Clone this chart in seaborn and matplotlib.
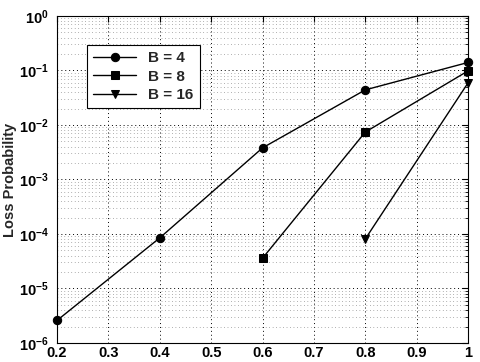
import numpy as np
import pandas as pd
import matplotlib
matplotlib.use('Agg')
import matplotlib.pyplot as plt
import seaborn as sns

# Data
load_b4 = [0.2, 0.4, 0.6, 0.8, 1.0]
loss_b4 = [2.6e-6, 8.5e-5, 3.8e-3, 4.4e-2, 0.14]
load_b8 = [0.6, 0.8, 1.0]
loss_b8 = [3.6e-5, 7.4e-3, 0.098]
load_b16 = [0.8, 1.0]
loss_b16 = [8.1e-5, 0.059]
labels = ['B = 4', 'B = 8', 'B = 16']
markers = ['o', 's', 'v']

df = pd.concat([
    pd.DataFrame({'load': load_b4, 'loss': loss_b4, 'B': labels[0]}),
    pd.DataFrame({'load': load_b8, 'loss': loss_b8, 'B': labels[1]}),
    pd.DataFrame({'load': load_b16, 'loss': loss_b16, 'B': labels[2]}),
])

sns.set_style('white')
plt.rcParams['font.family'] = ['Liberation Sans', 'DejaVu Sans']

fig = plt.figure(figsize=(4.8, 3.62), dpi=100)
ax = fig.add_axes([0.119, 0.0525, 0.856, 0.9035])

sns.lineplot(data=df, x='load', y='loss', style='B', markers=dict(zip(labels, markers)),
             dashes=False, color='black', linewidth=1.0, markersize=6,
             markeredgecolor='black', ax=ax, clip_on=False)

ax.set_yscale('log')
ax.set_xlim(0.2, 1.0)
ax.set_ylim(1e-6, 1)
ax.set_xticks([0.2, 0.3, 0.4, 0.5, 0.6, 0.7, 0.8, 0.9, 1.0])
ax.set_xticklabels(['0.2', '0.3', '0.4', '0.5', '0.6', '0.7', '0.8', '0.9', '1'])
ax.set_yticks([1e-6, 1e-5, 1e-4, 1e-3, 1e-2, 1e-1, 1])
ax.tick_params(axis='both', which='both', direction='in', top=True, right=True,
               labelsize=10.5, colors='black', length=4)
ax.tick_params(axis='x', pad=2)
ax.tick_params(axis='y', pad=6)
ax.tick_params(which='minor', length=2)
for lab in ax.get_xticklabels() + ax.get_yticklabels():
    lab.set_fontweight('bold')
ax.grid(True, which='major', linestyle=(0, (1, 3)), color='black', linewidth=0.7)
ax.grid(True, which='minor', linestyle=(0, (1, 4)), color='#666666', linewidth=0.5)
ax.set_axisbelow(True)
for sp in ax.spines.values():
    sp.set_color('black')
    sp.set_linewidth(0.8)

ax.set_xlabel('')
ax.set_ylabel('Loss Probability', fontsize=10.5, fontweight='bold', labelpad=1)

leg = ax.legend(loc='upper left', bbox_to_anchor=(0.055, 0.935), fontsize=11,
                frameon=True, fancybox=False, edgecolor='black', handlelength=2.8,
                borderpad=0.4, labelspacing=0.3, framealpha=1)
leg.get_frame().set_linewidth(0.8)
for t in leg.get_texts():
    t.set_fontweight('bold')

fig.savefig('out.png', dpi=100)
